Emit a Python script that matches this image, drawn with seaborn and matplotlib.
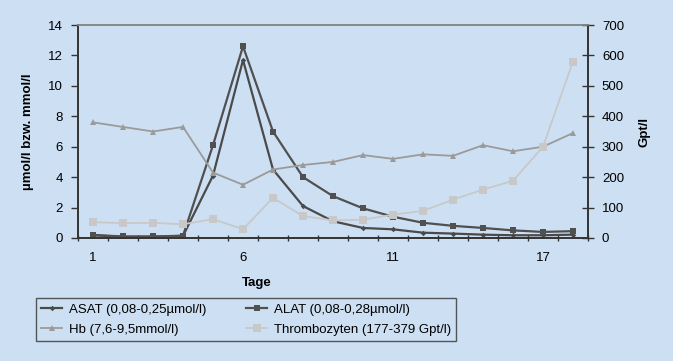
import pandas as pd
import seaborn as sns
import matplotlib.pyplot as plt

# Tage (Kategorien der x-Achse)
tage = ["1", "2", "3", "4", "5", "6", "7", "8", "9", "10", "11",
        "12", "13", "14", "15", "17", "18"]
tick_labels = ["1", "6", "11", "17"]

asat = [0.18, 0.08, 0.08, 0.14, 4.1, 11.7, 4.5, 2.1, 1.1, 0.66, 0.57,
        0.35, 0.29, 0.22, 0.18, 0.18, 0.22]
alat = [0.2, 0.1, 0.1, 0.15, 6.1, 12.6, 7.0, 4.0, 2.75, 1.95, 1.4,
        1.0, 0.8, 0.66, 0.5, 0.4, 0.45]
hb = [7.6, 7.3, 7.0, 7.3, 4.3, 3.5, 4.5, 4.8, 5.0, 5.45, 5.2,
      5.5, 5.4, 6.1, 5.7, 6.0, 6.9]
thrombo = [52, 49, 50, 45, 62, 29, 132, 72, 58, 60, 77,
           89, 126, 159, 188, 300, 580]

df = pd.DataFrame({"pos": range(len(tage)), "tag": tage, "ASAT": asat,
                   "ALAT": alat, "Hb": hb, "Thrombozyten": thrombo})

bg = "#cde0f3"
plt.rcParams["font.family"] = ["Liberation Sans", "DejaVu Sans"]

fig = plt.figure(figsize=(6.73, 3.61), dpi=100, facecolor=bg)
ax = fig.add_axes([78 / 673, 1 - 238 / 361, 510 / 673, 213 / 361])
ax.set_facecolor(bg)
ax2 = ax.twinx()

sns.lineplot(data=df, x="pos", y="ASAT", ax=ax, color="#4a4a4a", marker="D",
             markersize=4, linewidth=1.6, markeredgewidth=0,
             label="ASAT (0,08-0,25µmol/l)", legend=False)
sns.lineplot(data=df, x="pos", y="ALAT", ax=ax, color="#505050", marker="s",
             markersize=5.5, linewidth=1.6, markeredgewidth=0,
             label="ALAT (0,08-0,28µmol/l)", legend=False)
sns.lineplot(data=df, x="pos", y="Hb", ax=ax, color="#9a9a9a", marker="^",
             markersize=5.5, linewidth=1.3, markeredgewidth=0,
             label="Hb (7,6-9,5mmol/l)", legend=False)
sns.lineplot(data=df, x="pos", y="Thrombozyten", ax=ax2, color="#c8c8c8",
             marker="s", markersize=7.5, linewidth=1.3, markeredgewidth=0,
             label="Thrombozyten (177-379 Gpt/l)", legend=False)

ax.set_xlim(-0.5, len(tage) - 0.5)
ax.set_ylim(0, 14)
ax2.set_ylim(0, 700)
ax.set_yticks(range(0, 15, 2))
ax2.set_yticks(range(0, 701, 100))

# nur jede 5. Kategorie beschriftet, Striche zwischen den Kategorien
ax.set_xticks([tage.index(t) for t in tick_labels])
ax.set_xticklabels(tick_labels)
ax.set_xticks([i - 0.5 for i in range(len(tage) + 1)], minor=True)
ax.tick_params(axis="x", which="major", length=0, pad=10, labelsize=9.5)
ax.tick_params(axis="x", which="minor", length=5, width=1, color="#333333",
               direction="inout")
ax.tick_params(axis="y", length=5, width=1, color="#333333", labelsize=9.5,
               pad=6)
ax2.tick_params(axis="y", length=8, width=1, color="#333333", labelsize=9.5,
                direction="inout", pad=6)

for a in (ax, ax2):
    for s in ("left", "right", "bottom"):
        a.spines[s].set_color("#333333")
        a.spines[s].set_linewidth(1.2)
    a.spines["top"].set_color("#888888")
    a.spines["top"].set_linewidth(1.2)

ax.set_xlabel("Tage", fontsize=9.5, fontweight="bold")
ax.xaxis.set_label_coords((257 - 78) / 510, -0.183)
ax.set_ylabel("µmol/l bzw. mmol/l", fontsize=9.5, fontweight="bold",
              labelpad=10)
ax2.set_ylabel("Gpt/l", fontsize=9.5, fontweight="bold", labelpad=10)

h1, l1 = ax.get_legend_handles_labels()
h2, l2 = ax2.get_legend_handles_labels()
# Spaltenweise Reihenfolge: ASAT, Hb | ALAT, Thrombozyten
handles = [h1[0], h1[2], h1[1], h2[0]]
labels = [l1[0], l1[2], l1[1], l2[0]]
for h in handles:
    h.set_markersize(h.get_markersize() * 0.7)
leg = fig.legend(handles, labels, ncol=2, loc="upper left",
                 bbox_to_anchor=(36 / 673, 1 - 298 / 361), fontsize=9.5,
                 frameon=True, fancybox=False, handlelength=1.6,
                 columnspacing=3.0, borderpad=0.4, labelspacing=0.6,
                 handletextpad=0.5, borderaxespad=0)
leg.get_frame().set_edgecolor("#333333")
leg.get_frame().set_facecolor(bg)
leg.get_frame().set_linewidth(1.0)

fig.savefig("out.png", dpi=100, facecolor=bg)
